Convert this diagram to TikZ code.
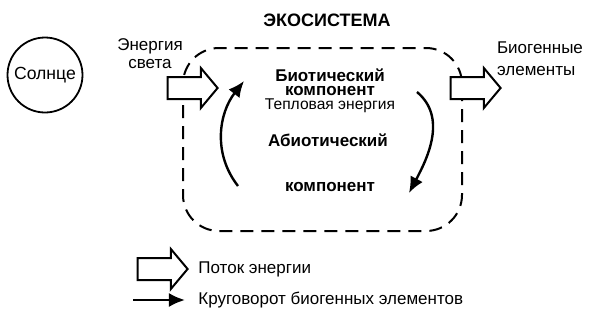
\documentclass[tikz,border=0pt]{standalone}
\usepackage{fontspec}
\setmainfont{Liberation Sans}
\usetikzlibrary{arrows.meta,shapes.arrows}
\tikzset{
  txt/.style={font=\fontsize{8.5}{10}\selectfont, inner sep=0pt},
  btxt/.style={font=\fontsize{8.5}{10}\selectfont\bfseries, inner sep=0pt},
  fat/.style={draw, line width=1pt, single arrow, single arrow head extend=4.5pt,
    single arrow tip angle=100, inner ysep=5pt, inner xsep=0pt,
    minimum height=25pt, fill=white},
  cyc/.style={line width=1.2pt, -{Latex[length=8pt,width=7pt]}},
}
\begin{document}
\begin{tikzpicture}[x=0.5pt, y=-0.5pt]
                \useasboundingbox (0,0) rectangle (607,317);

                \node (sun) at (45,75) [draw, circle, line width=0.9pt, minimum size=37.5pt, inner sep=0pt,
                  font=\fontsize{8.8}{10}\selectfont] {Солнце};
                \node (title) at (327,20) [btxt, font=\fontsize{9}{10}\selectfont\bfseries] {ЭКОСИСТЕМА};
                \draw [line width=1pt, dash pattern=on 6.5pt off 4pt, rounded corners=18pt] (183,48) rectangle (462,231);

                \node (light) at (150,54) [txt, align=center] {Энергия\\[-1pt]света};
                \node (bio) at (540,59) [txt, align=left] {Биогенные\\[1pt]элементы};

                \node (inflow) at (188,88) [fat] {};
                \node (outflow) at (471,88) [fat] {};

                \node (biot) at (330,75) [btxt] {Биотический};
                \node (biot2) at (330,91) [btxt] {компонент};
                \node (heat) at (330,106) [txt, font=\fontsize{7.8}{9}\selectfont] {Тепловая энергия};
                \node (abiot) at (328,140) [btxt] {Абиотический};
                \node (abiot2) at (330,187) [btxt] {компонент};

                \coordinate (l1) at (238,186);
                \coordinate (l2) at (244,81);
                \coordinate (r1) at (417,92);
                \coordinate (r2) at (409,193);
                \draw [cyc] (l1) to[out=128, in=232] (l2);
                \draw [cyc] (r1) to[out=-40, in=62] (r2);

                % legend
                \node (legfat) at (158,269) [fat] {};
                \node (legfattxt) at (198,269) [txt, anchor=west] {Поток энергии};
                \coordinate (la) at (133,300);
                \coordinate (lb) at (185,300);
                \draw [cyc] (la) -- (lb);
                \node (legcyctxt) at (198,300) [txt, anchor=west] {Круговорот биогенных элементов};
            \end{tikzpicture}
\end{document}
